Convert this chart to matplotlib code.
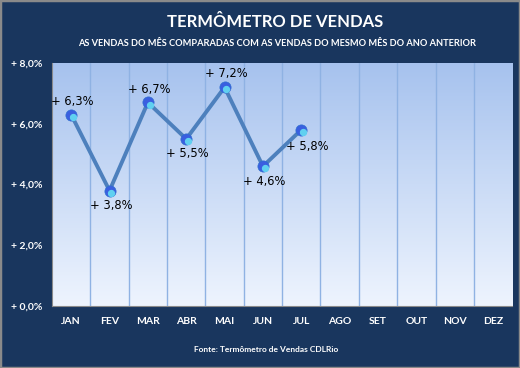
import matplotlib
matplotlib.use("Agg")
import matplotlib.pyplot as plt
import numpy as np

months = ["JAN", "FEV", "MAR", "ABR", "MAI", "JUN", "JUL", "AGO", "SET", "OUT", "NOV", "DEZ"]
values = [6.3, 3.8, 6.7, 5.5, 7.2, 4.6, 5.8]
label_pos = ["above", "below", "above", "below", "above", "below", "belowright"]
yticks = [0, 2, 4, 6, 8]

navy = "#19365e"
plt.rcParams["font.family"] = ["Lato", "DejaVu Sans"]

fig = plt.figure(figsize=(5.2, 3.68), dpi=100, facecolor=navy)
fig.patches.append(plt.Rectangle((0, 0), 1, 1, transform=fig.transFigure,
                                 fill=False, edgecolor="#8a8a8a", lw=2.5))
ax = fig.add_axes([0.1, 0.168, 0.885, 0.661])

# gradient background
grad = np.linspace(0, 1, 256).reshape(-1, 1)
cmap = matplotlib.colors.LinearSegmentedColormap.from_list("bg", ["#eef4fe", "#a6c2ee"])
ax.imshow(grad, aspect="auto", cmap=cmap, origin="lower",
          extent=[-0.5, 11.5, 0, 8], zorder=0)

for i in range(1, 12):
    ax.axvline(i - 0.5, color="#8fb2e3", lw=1, zorder=1)

x = np.arange(len(values))
ax.plot(x, values, color="#4d80bd", lw=2.8, zorder=2)
ax.scatter(x, values, s=65, color="#3a5fe0", edgecolors="#2f6fd0", linewidths=0.5, zorder=3)
ax.scatter(x + 0.05, np.array(values) - 0.07, s=18, color="#60d0f0", zorder=4)

for xi, v, p in zip(x, values, label_pos):
    txt = "+ " + f"{v:.1f}".replace(".", ",") + "%"
    kw = dict(textcoords="offset points", fontsize=8.3, color="black", zorder=5,
              family="DejaVu Sans")
    if p == "above":
        ax.annotate(txt, (xi, v), xytext=(1, 5), ha="center", va="bottom", **kw)
    elif p == "below":
        ax.annotate(txt, (xi, v), xytext=(1, -6), ha="center", va="top", **kw)
    else:
        ax.annotate(txt, (xi, v), xytext=(-11, -7), ha="left", va="top", **kw)

ax.set_xlim(-0.5, 11.5)
ax.set_ylim(0, 8)
ax.set_xticks(range(12))
ax.set_xticklabels(months)
ax.set_yticks(yticks)
ax.set_yticklabels(["+ " + f"{t:.1f}".replace(".", ",") + "%" for t in yticks])
ax.tick_params(colors="white", length=0, labelsize=7.5)
for lbl in ax.get_xticklabels() + ax.get_yticklabels():
    lbl.set_fontweight("bold")
ax.tick_params(axis="x", pad=8)
ax.tick_params(axis="y", pad=7)
for s in ["top", "right"]:
    ax.spines[s].set_visible(False)
for s in ["left", "bottom"]:
    ax.spines[s].set_color("#8a8a8a")

fig.text(0.53, 0.94, "TERMÔMETRO DE VENDAS", color="white", fontsize=12,
         fontweight="bold", ha="center", va="center")
fig.text(0.533, 0.883, "AS VENDAS DO MÊS COMPARADAS COM AS VENDAS DO MESMO MÊS DO ANO ANTERIOR",
         color="white", fontsize=6.7, fontweight="bold", ha="center", va="center")
fig.text(0.512, 0.049, "Fonte: Termômetro de Vendas CDLRio", color="white", fontsize=6,
         fontweight="bold", ha="center", va="center")

fig.savefig("out.png", dpi=100, facecolor=navy)
